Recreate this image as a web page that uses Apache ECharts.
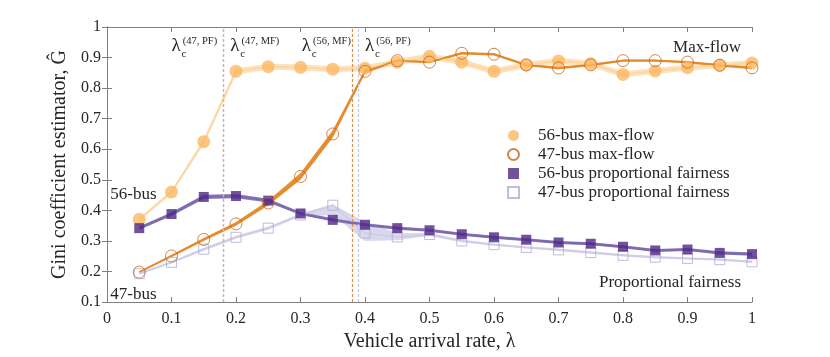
<!DOCTYPE html>
<html>
<head>
<meta charset="utf-8">
<script src="https://cdn.jsdelivr.net/npm/echarts@6/dist/echarts.min.js"></script>
<style>
html,body{margin:0;padding:0;background:#fff}
#chart{width:830px;height:357px}
</style>
</head>
<body>
<div id="chart"></div>
<script>
// vehicle arrival rate
var lambda = [0.05,0.1,0.15,0.2,0.25,0.3,0.35,0.4,0.45,0.5,0.55,0.6,0.65,0.7,0.75,0.8,0.85,0.9,0.95,1.0];

// 56-bus max-flow
var mf56   = [0.371,0.46,0.625,0.855,0.87,0.868,0.862,0.865,0.885,0.904,0.885,0.855,0.876,0.889,0.88,0.845,0.856,0.867,0.875,0.882];
var mf56Lo = [0.366,0.454,0.617,0.845,0.86,0.858,0.852,0.855,0.875,0.894,0.875,0.845,0.866,0.879,0.87,0.835,0.846,0.857,0.865,0.872];
var mf56Hi = [0.376,0.466,0.633,0.865,0.88,0.878,0.872,0.875,0.895,0.914,0.895,0.865,0.886,0.899,0.89,0.855,0.866,0.877,0.885,0.892];

// 47-bus max-flow
var mf47   = [0.198,0.251,0.305,0.356,0.424,0.511,0.65,0.855,0.89,0.885,0.914,0.911,0.876,0.866,0.876,0.89,0.89,0.885,0.875,0.866];
var mf47Lo = [0.195,0.247,0.3,0.35,0.416,0.5,0.638,0.848,0.886,0.881,0.91,0.907,0.872,0.862,0.872,0.886,0.886,0.881,0.871,0.862];
var mf47Hi = [0.201,0.255,0.31,0.362,0.432,0.522,0.662,0.862,0.894,0.889,0.918,0.915,0.88,0.87,0.88,0.894,0.894,0.889,0.879,0.87];

// 56-bus proportional fairness
var pf56   = [0.342,0.388,0.444,0.447,0.432,0.39,0.369,0.353,0.342,0.335,0.322,0.312,0.304,0.295,0.291,0.281,0.269,0.272,0.261,0.257];
var pf56Lo = [0.337,0.382,0.437,0.44,0.426,0.385,0.364,0.348,0.337,0.33,0.317,0.307,0.299,0.29,0.286,0.276,0.264,0.267,0.256,0.252];
var pf56Hi = [0.347,0.394,0.451,0.454,0.438,0.395,0.374,0.358,0.347,0.34,0.327,0.317,0.309,0.3,0.296,0.286,0.274,0.277,0.266,0.262];

// 47-bus proportional fairness
var pf47   = [0.193,0.23,0.273,0.312,0.342,0.385,0.417,0.326,0.313,0.321,0.3,0.288,0.279,0.271,0.262,0.253,0.247,0.243,0.239,0.232];
var pf47Lo = [0.19,0.226,0.268,0.307,0.337,0.38,0.385,0.3,0.302,0.316,0.296,0.284,0.275,0.267,0.258,0.249,0.243,0.239,0.235,0.228];
var pf47Hi = [0.197,0.234,0.278,0.317,0.347,0.39,0.42,0.362,0.326,0.326,0.305,0.292,0.283,0.275,0.266,0.257,0.251,0.247,0.243,0.236];

// critical rates (dashed lines) and their labels
var critX      = [0.18, 0.183, 0.383, 0.388];
var critColor  = ['#8e7fc0', '#f5b063', '#dc8c45', '#c9c5e6'];
var critLabel  = ['47, PF', '47, MF', '56, MF', '56, PF'];
var critLabelX = [0.1, 0.191, 0.302, 0.4];

var legendNames = ['56-bus max-flow', '47-bus max-flow', '56-bus proportional fairness', '47-bus proportional fairness'];
var legendIcons = ['circle', 'circle', 'rect', 'rect'];

var serif = '"Liberation Serif", "DejaVu Serif", serif';
var txt = '#262626';
var axisGray = '#7f7f7f';

function xy(ys) {
  return lambda.map(function (x, i) { return [x, ys[i]]; });
}

function band(lo, hi, color) {
  return {
    type: 'custom',
    silent: true,
    z: 1,
    data: [[0.5, 0.5]],
    renderItem: function (params, api) {
      var pts = [];
      for (var i = 0; i < lambda.length; i++) pts.push(api.coord([lambda[i], hi[i]]));
      for (var j = lambda.length - 1; j >= 0; j--) pts.push(api.coord([lambda[j], lo[j]]));
      return { type: 'polygon', shape: { points: pts }, style: { fill: color } };
    }
  };
}

function centre(ys, color, w) {
  return {
    type: 'line', data: xy(ys), showSymbol: false, silent: true, z: 2,
    lineStyle: { color: color, width: w }
  };
}

function note(text, x, y, align, pos, rich) {
  var lab = {
    show: true, position: pos || [0, 0], align: align, verticalAlign: 'middle',
    formatter: text, fontFamily: serif, fontSize: 17, color: txt
  };
  if (rich) { lab.rich = rich; lab.verticalAlign = 'top'; }
  return { coord: [x, y], label: lab };
}

// lambda_c^(..) labels: lambda + superscript, then subscript c on its own
var critRich = {
  l: { fontFamily: serif, fontSize: 19, color: txt, lineHeight: 19, verticalAlign: 'bottom' },
  sup: { fontFamily: serif, fontSize: 10.5, color: txt, lineHeight: 19, verticalAlign: 'top', padding: [0, 0, 0, 2] }
};
var critPts = [];
critLabel.forEach(function (s, i) {
  critPts.push(note('{l|λ}{sup|(' + s + ')}', critLabelX[i], 0.97, 'left', [0, 0], critRich));
  var c = note('c', critLabelX[i], 0.97, 'left', [10, 12]);
  c.label.fontSize = 11;
  c.label.verticalAlign = 'top';
  critPts.push(c);
});

var chart = echarts.init(document.getElementById('chart'));

var option = {
  animation: false,
  grid: { left: 107, right: 78, top: 27, bottom: 49 },
  legend: {
    data: legendNames.map(function (n, i) { return { name: n, icon: legendIcons[i] }; }),
    orient: 'vertical',
    left: 502, top: 122,
    itemWidth: 11, itemHeight: 11, itemGap: 2,
    textStyle: { fontFamily: serif, fontSize: 17, lineHeight: 17, color: txt, padding: [0, 0, 0, 14] }
  },
  xAxis: [{
    type: 'value', min: 0, max: 1, interval: 0.1,
    name: 'Vehicle arrival rate, λ', nameLocation: 'middle', nameGap: 26,
    nameTextStyle: { fontFamily: serif, fontSize: 20, color: txt },
    axisLine: { lineStyle: { color: axisGray } },
    axisTick: { inside: true, length: 5, lineStyle: { color: axisGray } },
    axisLabel: { fontFamily: serif, fontSize: 16, color: txt, margin: 9 },
    splitLine: { show: false }
  }, {
    type: 'value', min: 0, max: 1, interval: 0.1, position: 'top',
    axisLine: { lineStyle: { color: axisGray } },
    axisTick: { inside: true, length: 5, lineStyle: { color: axisGray } },
    axisLabel: { show: false }, splitLine: { show: false }
  }],
  yAxis: [{
    type: 'value', min: 0.1, max: 1, interval: 0.1,
    name: 'Gini coefficient estimator, Ĝ', nameLocation: 'middle', nameGap: 34,
    nameTextStyle: { fontFamily: serif, fontSize: 20, color: txt },
    axisLine: { show: true, lineStyle: { color: axisGray } },
    axisTick: { show: true, inside: true, length: 5, lineStyle: { color: axisGray } },
    axisLabel: { fontFamily: serif, fontSize: 16, color: txt, margin: 6,
      formatter: function (v) { return +v.toFixed(1) + ''; } },
    splitLine: { show: false }
  }, {
    type: 'value', min: 0.1, max: 1, interval: 0.1, position: 'right',
    axisLine: { show: true, lineStyle: { color: axisGray } },
    axisTick: { show: true, inside: true, length: 5, lineStyle: { color: axisGray } },
    axisLabel: { show: false }, splitLine: { show: false }
  }],
  series: [
    band(mf56Lo, mf56Hi, '#fde3bd'),
    band(mf47Lo, mf47Hi, '#e8913a'),
    band(pf47Lo, pf47Hi, '#d9d8ed'),
    band(pf56Lo, pf56Hi, '#8b7bb8'),
    centre(mf56, '#fdd7a3', 2),
    centre(mf47, '#e38a28', 1.5),
    centre(pf47, '#cdcbe6', 1.5),
    centre(pf56, '#7d6aae', 2),
    {
      type: 'line', data: [], silent: true, z: 3,
      markLine: {
        symbol: 'none', silent: true, label: { show: false },
        data: critX.map(function (x, i) {
          return { xAxis: x, lineStyle: { color: critColor[i], type: [3, 2], width: 1.2 } };
        })
      },
      markPoint: {
        symbol: 'circle', symbolSize: 0, silent: true,
        data: critPts.concat([
          note('Max-flow', 0.983, 0.933, 'right'),
          note('Proportional fairness', 0.983, 0.164, 'right'),
          note('56-bus', 0.005, 0.452, 'left'),
          note('47-bus', 0.005, 0.126, 'left')
        ])
      }
    },
    {
      name: legendNames[0], type: 'scatter', data: xy(mf56), z: 5,
      symbol: 'circle', symbolSize: 13, itemStyle: { color: '#fdb863' }
    },
    {
      name: legendNames[1], type: 'scatter', data: xy(mf47), z: 6,
      symbol: 'circle', symbolSize: 12,
      itemStyle: { color: 'rgba(255,255,255,0)', borderColor: '#c8661c', borderWidth: 1 }
    },
    {
      name: legendNames[2], type: 'scatter', data: xy(pf56), z: 5,
      symbol: 'rect', symbolSize: 10, itemStyle: { color: '#4f2585' }
    },
    {
      name: legendNames[3], type: 'scatter', data: xy(pf47), z: 4,
      symbol: 'rect', symbolSize: 10,
      itemStyle: { color: 'rgba(255,255,255,0)', borderColor: '#b2abd2', borderWidth: 1 }
    }
  ]
};

chart.setOption(option);
</script>
</body>
</html>
